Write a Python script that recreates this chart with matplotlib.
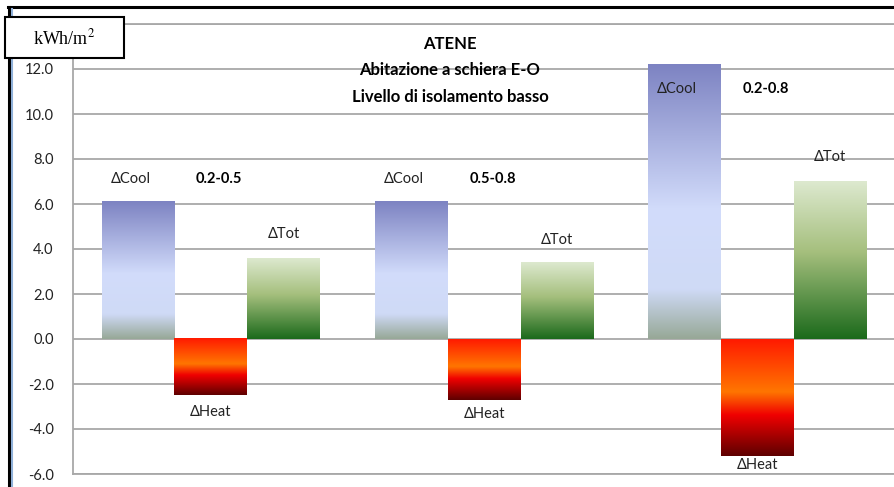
import matplotlib
matplotlib.use('Agg')
import matplotlib.pyplot as plt
import numpy as np
from matplotlib.colors import LinearSegmentedColormap
from matplotlib.lines import Line2D

plt.rcParams['font.family'] = ['Lato', 'DejaVu Sans']

# valori (kWh/m2) per i tre intervalli
ranges = ['0.2-0.5', '0.5-0.8', '0.2-0.8']
d_cool = [6.1, 6.1, 12.2]
d_heat = [-2.5, -2.7, -5.2]
d_tot = [3.6, 3.4, 7.0]

y_ticks = [-6.0, -4.0, -2.0, 0.0, 2.0, 4.0, 6.0, 8.0, 10.0, 12.0, 14.0]

# sfumature delle barre (dall'alto verso il basso)
cmap_cool = LinearSegmentedColormap.from_list('cool', [
    (0.0, '#7d83c2'), (0.53, '#d2dcfb'), (0.82, '#cfdaf6'), (1.0, '#97a897')])
cmap_heat = LinearSegmentedColormap.from_list('heat', [
    (0.0, '#ff1a00'), (0.45, '#ff7600'), (0.65, '#f00000'), (1.0, '#5e0000')])
cmap_tot = LinearSegmentedColormap.from_list('tot', [
    (0.0, '#dde9cf'), (0.45, '#a5bf7d'), (1.0, '#1b6a1b')])

fig = plt.figure(figsize=(8.94, 4.87), dpi=100)
ax = fig.add_axes([73 / 894, 1 - 474 / 487, 1 - 73 / 894, (474 - 24) / 487])

x = np.arange(len(ranges))
w = 0.267
grad = np.linspace(0, 1, 256).reshape(-1, 1)


def gradient_bars(xpos, vals, cmap):
    bars = ax.bar(xpos, vals, width=w, color='none', edgecolor='none', zorder=3)
    for b in bars:
        x0, y0 = b.get_x(), b.get_y()
        x1, y1 = x0 + b.get_width(), y0 + b.get_height()
        top, bot = max(y0, y1), min(y0, y1)
        ax.imshow(grad, cmap=cmap, extent=(x0, x1, bot, top), origin='upper',
                  aspect='auto', zorder=3, interpolation='bicubic')
    return bars


gradient_bars(x - w, d_cool, cmap_cool)
gradient_bars(x, d_heat, cmap_heat)
gradient_bars(x + w, d_tot, cmap_tot)

ax.set_xlim(-0.505, 2.5)
ax.set_ylim(-6, 14)
ax.set_yticks(y_ticks)
# l'etichetta 14.0 resta coperta dal riquadro dell'unità
ax.set_yticklabels([f'{v:.1f}' if v < 14 else '' for v in y_ticks],
                   fontsize=10.5, color='#222222')
ax.set_xticks([])
ax.tick_params(axis='y', length=0, pad=14)
ax.grid(axis='y', color='#a8a8a8', linewidth=1.3, zorder=0)
ax.set_axisbelow(True)
for name, sp in ax.spines.items():
    sp.set_color('#a8a8a8')
    sp.set_linewidth(1.3)
ax.spines['right'].set_visible(False)

# etichette delle barre
lab = dict(fontsize=10.5, color='#222222', ha='center', va='center', zorder=5)
cool_off = [1.0, 1.0, -1.1]
tot_off = [1.05, 1.0, 1.1]
heat_off = [-0.75, -0.63, -0.4]
for i in range(len(ranges)):
    ax.text(x[i] - w * 1.1, d_cool[i] + cool_off[i], 'ΔCool', **lab)
    ax.text(x[i] + 0.03, d_cool[i] + cool_off[i], ranges[i], fontsize=10.5,
            fontweight='bold', ha='center', va='center', zorder=5)
    ax.text(x[i] + w, d_tot[i] + tot_off[i], 'ΔTot', **lab)
    ax.text(x[i], d_heat[i] + heat_off[i], 'ΔHeat', **lab)

title_lines = ['ATENE', 'Abitazione a schiera E-O', 'Livello di isolamento basso']
for line, ypix in zip(title_lines, [44, 70, 97]):
    fig.text(450 / 894, 1 - ypix / 487, line, ha='center', va='center',
             fontsize=12, fontweight='bold')

# unità di misura in un riquadro
fig.patches.append(plt.Rectangle((5 / 894, 1 - 58 / 487), 119 / 894, 41 / 487,
                                 transform=fig.transFigure, facecolor='white',
                                 edgecolor='black', linewidth=1.5, zorder=10))
fig.text(64 / 894, 1 - 38 / 487, r'kWh/m$^2$', ha='center', va='center',
         fontsize=13, family='Liberation Serif', math_fontfamily='stix', zorder=11)

# bordo dell'area del grafico
fig.add_artist(Line2D([8 / 894, 1], [1 - 7 / 487] * 2, color='black', linewidth=2.2))
fig.add_artist(Line2D([8.5 / 894] * 2, [0, 1 - 7 / 487], color='black', linewidth=2.2))
fig.add_artist(Line2D([12 / 894] * 2, [0, 1 - 9 / 487], color='#8fb0d8', linewidth=1.5))

fig.savefig('out.png', dpi=100)
